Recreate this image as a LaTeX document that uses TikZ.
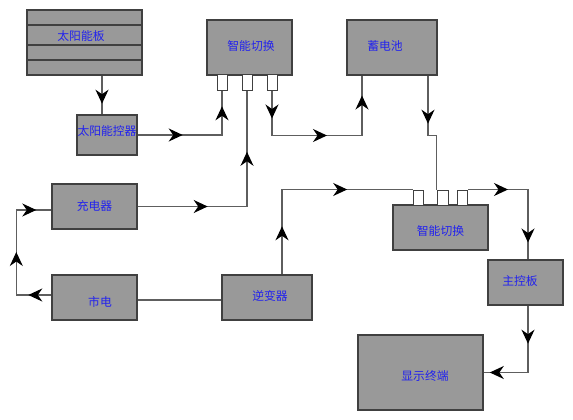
\documentclass[tikz,border=0pt]{standalone}
\usepackage{fontspec}
\newfontfamily\cjk{Noto Sans CJK SC}
\usetikzlibrary{arrows.meta,decorations.markings,calc}
\definecolor{bfill}{HTML}{999999}
\definecolor{bline}{HTML}{404040}
\definecolor{cline}{HTML}{5E5E5E}
\definecolor{tblue}{HTML}{2222EE}
\tikzset{
  box/.style={draw=bline, fill=bfill, line width=1.4pt, inner sep=0pt, rectangle},
  port/.style={draw=bline, fill=white, line width=1pt, minimum width=10pt, minimum height=15pt, inner sep=0pt, rectangle},
  txt/.style={text=tblue, font=\cjk\fontsize{11.8}{13}\selectfont, inner sep=0pt},
  conn/.style={draw=cline, line width=1.3pt},
  arr/.style={postaction={decorate,decoration={markings,mark=at position #1 with {\arrow{Stealth[length=14pt,width=13pt,inset=4.5pt,color=black]}}}}}
}
\begin{document}
\begin{tikzpicture}[x=1pt,y=-1pt]
\useasboundingbox (0,0) rectangle (573,420);
% boxes
\node[box, minimum width=115pt, minimum height=65pt,
  label={[txt,xshift=-3.5pt,yshift=6.5pt]center:太阳能板}] (panel) at (84.5,42.5) {};
\draw[draw=bline, line width=1.4pt] (panel.west |- 0,25) -- (panel.east |- 0,25)
  (panel.west |- 0,45) -- (panel.east |- 0,45)
  (panel.west |- 0,60) -- (panel.east |- 0,60);
\node[box, minimum width=60pt, minimum height=40pt,
  label={[txt,yshift=4pt]center:太阳能控器}] (ctrl) at (107,135) {};
\node[box, minimum width=85pt, minimum height=55pt,
  label={[txt,xshift=1.5pt,yshift=1.5pt]center:智能切换}] (sw1) at (249.5,47.5) {};
\node[port] (p1) at (222,82.5) {};
\node[port] (p2) at (247,82.5) {};
\node[port] (p3) at (272,82.5) {};
\node[box, minimum width=90pt, minimum height=55pt,
  label={[txt,xshift=-7pt,yshift=1.5pt]center:蓄电池}] (bat) at (392,47.5) {};
\node[box, minimum width=85pt, minimum height=45pt,
  label={[txt]center:充电器}] (charger) at (94.5,206.5) {};
\node[box, minimum width=85pt, minimum height=45pt,
  label={[txt,xshift=5.5pt,yshift=-4.5pt]center:市电}] (city) at (94.5,297.5) {};
\node[box, minimum width=90pt, minimum height=45pt,
  label={[txt,xshift=3pt,yshift=1.5pt]center:逆变器}] (inv) at (267,297.5) {};
\node[box, minimum width=95pt, minimum height=45pt,
  label={[txt,yshift=-3.5pt]center:智能切换}] (sw2) at (440.5,227.5) {};
\node[port] (q1) at (418,197.5) {};
\node[port, minimum width=11pt] (q2) at (442.5,197.5) {};
\node[port] (q3) at (462.5,197.5) {};
\node[box, minimum width=75pt, minimum height=45pt,
  label={[txt,xshift=-5.5pt,yshift=1.5pt]center:主控板}] (main) at (525.5,282.5) {};
\node[box, minimum width=125pt, minimum height=75pt,
  label={[txt,xshift=4.5pt,yshift=-3.5pt]center:显示终端}] (disp) at (420.5,372.5) {};
% connectors
\draw[conn, arr=28pt] ([xshift=17.5pt]panel.south) -- ([xshift=-5pt]ctrl.north);
\draw[conn, arr=45pt, arr=113pt] (ctrl.east) -| (p1.south);
\draw[conn, arr=70pt, arr=164pt] (charger.east) -| (p2.south);
\draw[conn, arr=28pt, arr=100pt, arr=175pt] (p3.south) -- ++(0,45) coordinate (b1) -| ([xshift=-30pt]bat.south);
\draw[conn, arr=48pt] ([xshift=36pt]bat.south) -- ++(0,60) coordinate (b2) -| (q2.north west);
\draw[conn, arr=48pt, arr=150pt] ([xshift=15pt]inv.north) |- (q1.north west);
\draw[conn, arr=40pt, arr=113pt] (q3.north east) -| ([xshift=2.5pt]main.north);
\draw[conn, arr=38pt, arr=105pt] ([xshift=2.5pt]main.south) |- (disp.east);
\draw[conn, arr=23pt, arr=78pt, arr=140pt] ([yshift=2.5pt]city.west) -- ++(-35,0) coordinate (b3) |- ([yshift=-3.5pt]charger.west);
\draw[conn] ([yshift=-2.5pt]inv.west) -- ([yshift=-2.5pt]city.east);
\end{tikzpicture}
\end{document}
